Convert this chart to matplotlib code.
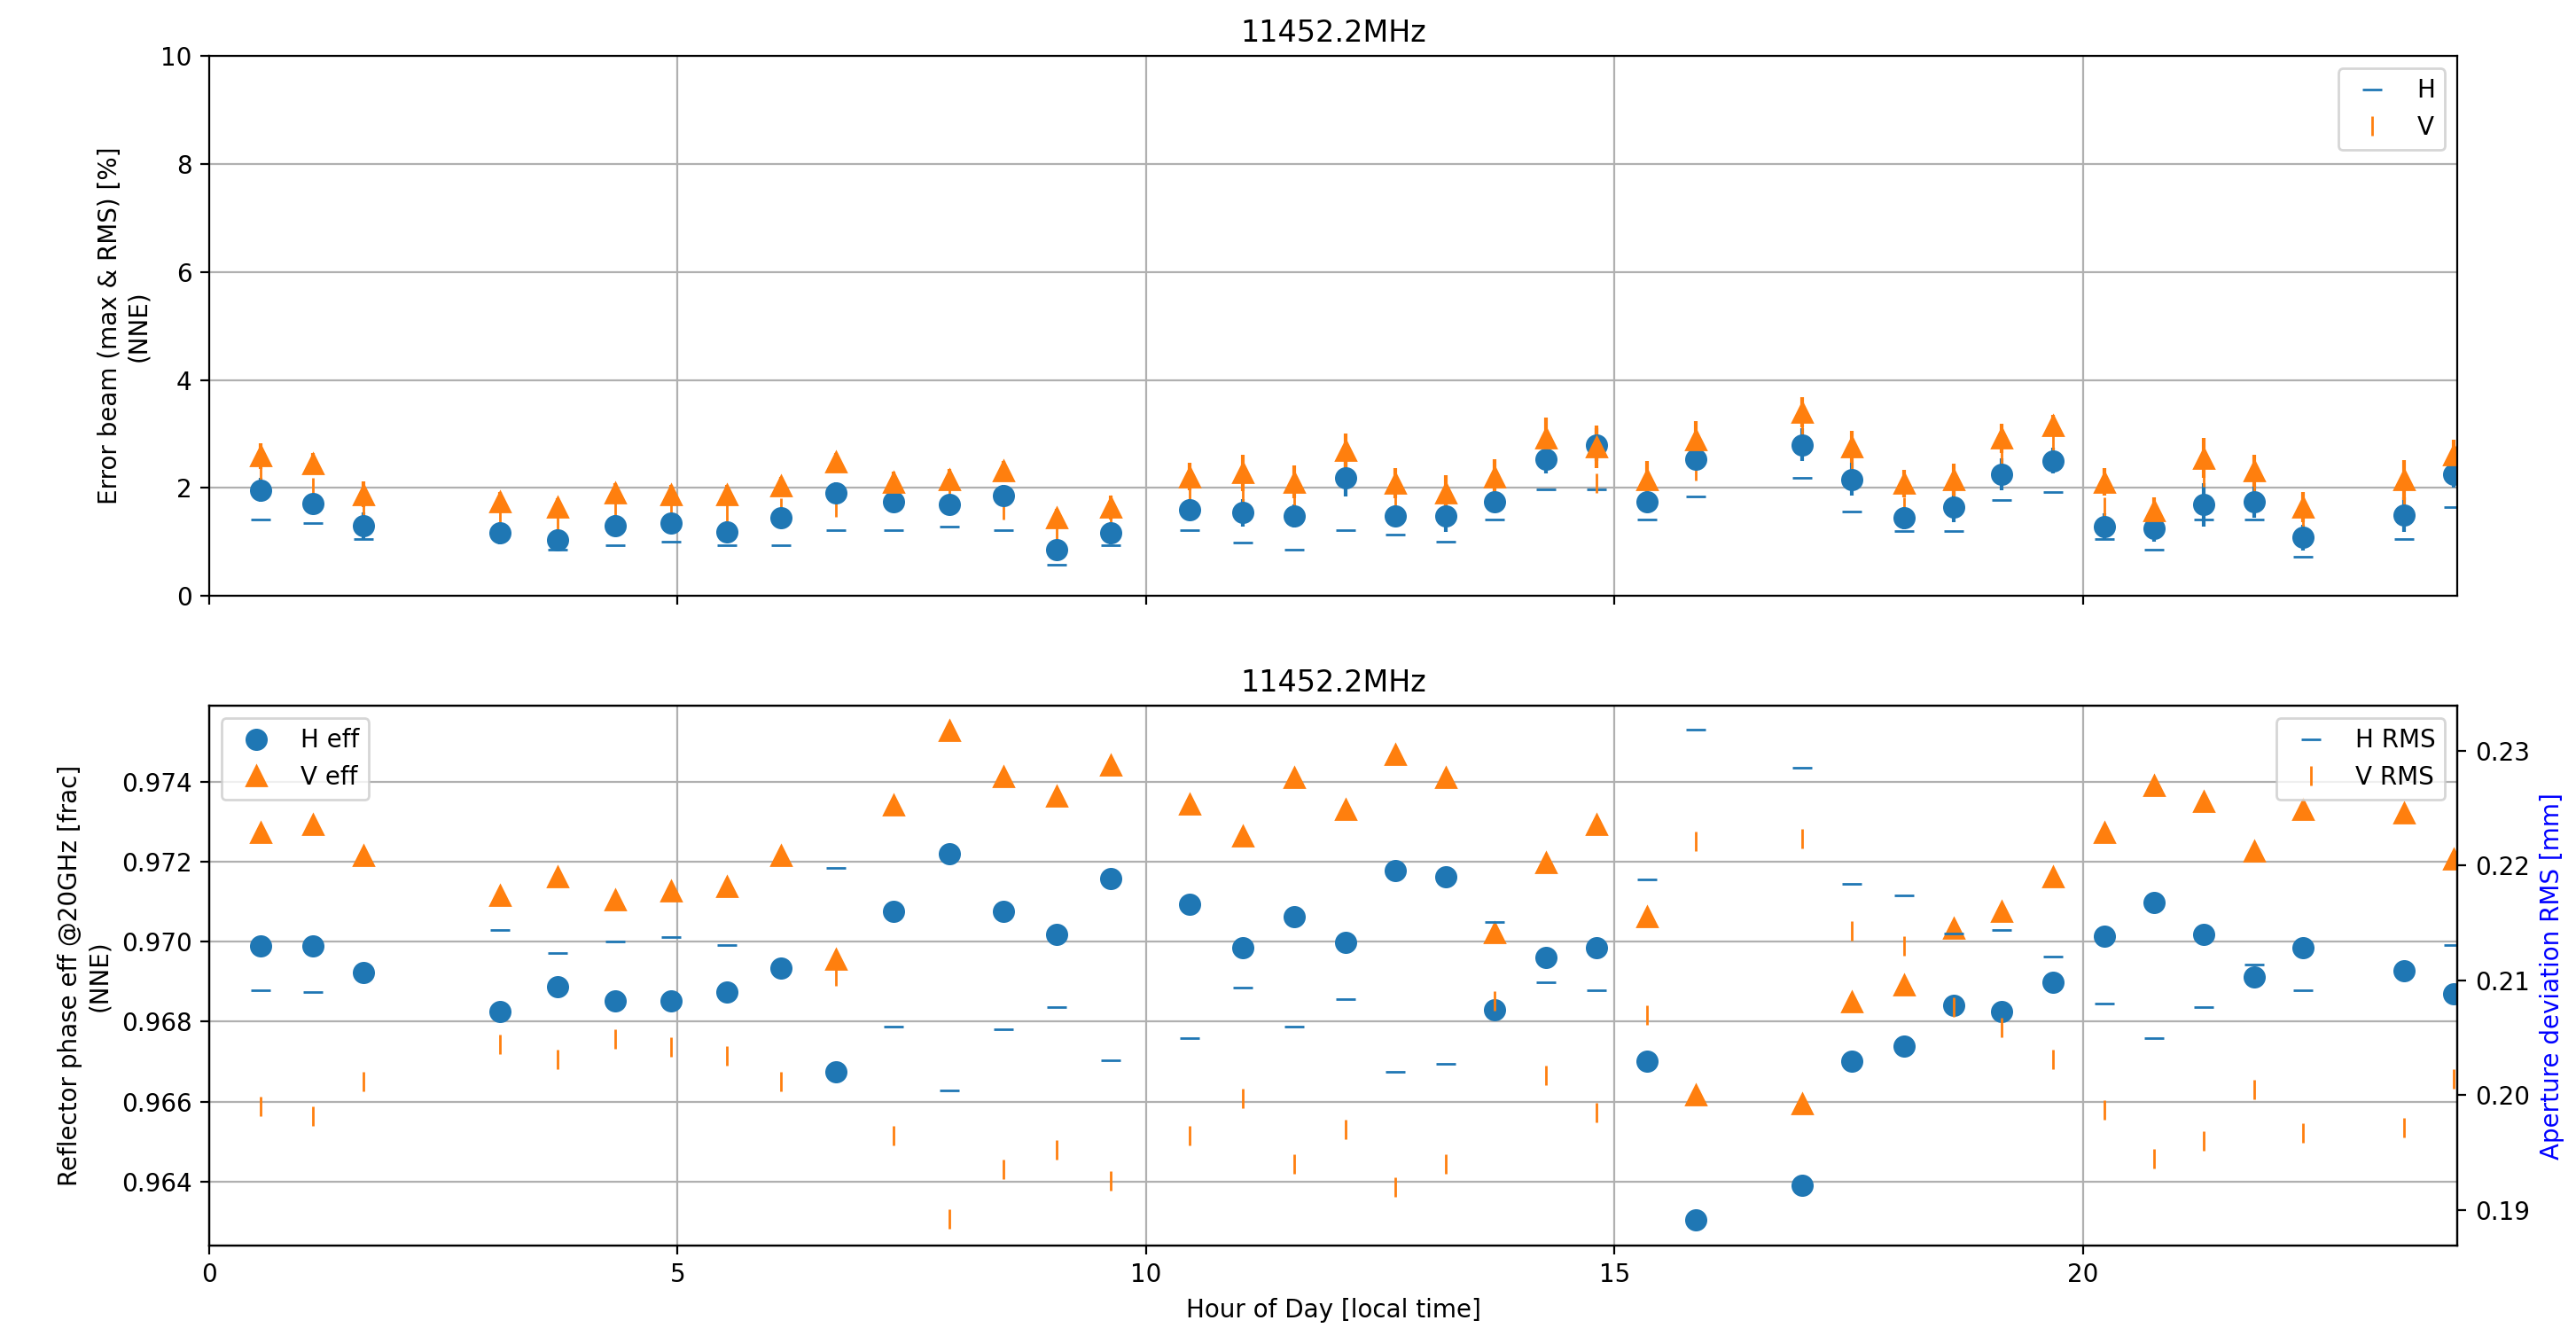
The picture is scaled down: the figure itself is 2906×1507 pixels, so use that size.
import matplotlib
matplotlib.use("Agg")
import matplotlib.pyplot as plt
import numpy as np

# hour of day for each scan
hours = [0.55, 1.11, 1.65, 3.10, 3.72, 4.33, 4.93, 5.53, 6.10, 6.69,
         7.31, 7.90, 8.48, 9.05, 9.62, 10.47, 11.03, 11.58, 12.13, 12.66,
         13.20, 13.72, 14.27, 14.81, 15.35, 15.87, 17.00, 17.53, 18.09, 18.62,
         19.13, 19.68, 20.23, 20.76, 21.29, 21.83, 22.35, 23.43, 23.96]

# top panel: error beam max (with spread) and RMS [%]
h_max = [1.96, 1.71, 1.30, 1.16, 1.04, 1.30, 1.35, 1.18, 1.44, 1.91,
         1.74, 1.69, 1.86, 0.86, 1.16, 1.59, 1.54, 1.48, 2.18, 1.48,
         1.48, 1.74, 2.53, 2.80, 1.74, 2.53, 2.80, 2.16, 1.44, 1.65,
         2.25, 2.50, 1.28, 1.25, 1.69, 1.74, 1.08, 1.50, 2.25]
h_err = [0.22, 0.17, 0.25, 0.20, 0.20, 0.20, 0.18, 0.20, 0.17, 0.20,
         0.17, 0.17, 0.20, 0.17, 0.20, 0.20, 0.25, 0.22, 0.34, 0.20,
         0.29, 0.20, 0.27, 0.30, 0.20, 0.20, 0.30, 0.30, 0.20, 0.29,
         0.30, 0.24, 0.25, 0.24, 0.40, 0.29, 0.24, 0.32, 0.25]
h_rms = [1.42, 1.35, 1.06, np.nan, 0.86, 0.93, 1.00, 0.93, 0.93, 1.21,
         1.21, 1.28, 1.21, 0.57, 0.93, 1.21, 0.99, 0.86, 1.21, 1.14,
         1.00, 1.42, 1.98, 1.98, 1.42, 1.84, 2.19, 1.56, 1.20, 1.20,
         1.77, 1.92, 1.06, 0.86, 1.42, 1.42, 0.72, 1.06, 1.64]
v_max = [2.59, 2.45, 1.88, 1.74, 1.64, 1.91, 1.88, 1.88, 2.04, 2.48,
         2.11, 2.15, 2.32, 1.44, 1.64, 2.21, 2.28, 2.11, 2.69, 2.08,
         1.91, 2.21, 2.92, 2.76, 2.15, 2.89, 3.40, 2.76, 2.08, 2.15,
         2.92, 3.15, 2.11, 1.57, 2.55, 2.32, 1.64, 2.15, 2.62]
v_err = [0.24, 0.20, 0.24, 0.19, 0.17, 0.17, 0.17, 0.17, 0.17, 0.17,
         0.19, 0.20, 0.17, 0.17, 0.22, 0.26, 0.34, 0.30, 0.32, 0.28,
         0.32, 0.32, 0.39, 0.39, 0.34, 0.35, 0.28, 0.30, 0.26, 0.30,
         0.27, 0.20, 0.26, 0.26, 0.37, 0.30, 0.28, 0.37, 0.28]
v_rms = [2.28, 2.01, 1.64, 1.50, 1.37, 1.57, 1.67, 1.54, 1.62, 1.64,
         1.90, 1.90, 1.60, 1.16, 1.40, 1.90, 1.85, 1.80, 2.30, 1.75,
         1.60, 1.95, 2.55, 2.08, 1.85, 2.32, 3.00, 2.45, 1.64, 1.85,
         2.60, 2.80, 1.64, 1.40, 2.20, 2.05, 1.40, 1.85, 2.30]

# bottom panel: phase efficiency and aperture deviation RMS [mm]
h_eff = [0.96989, 0.96989, 0.96922, 0.96825, 0.96888, 0.96852, 0.96852, 0.96874, 0.96933, 0.96674,
         0.97076, 0.97221, 0.97076, 0.97018, 0.97157, 0.97094, 0.96985, 0.97062, 0.96999, 0.97178,
         0.97163, 0.96830, 0.96960, 0.96985, 0.96702, 0.96304, 0.96391, 0.96702, 0.96738, 0.96840,
         0.96825, 0.96898, 0.97014, 0.97099, 0.97018, 0.96912, 0.96985, 0.96927, 0.96869]
v_eff = [0.97274, 0.97294, 0.97216, 0.97115, 0.97163, 0.97105, 0.97127, 0.97139, 0.97216, 0.96956,
         0.97342, 0.97528, 0.97414, 0.97364, 0.97443, 0.97345, 0.97265, 0.97410, 0.97332, 0.97468,
         0.97410, 0.97023, 0.97197, 0.97294, 0.97062, 0.96618, 0.96594, 0.96850, 0.96893, 0.97033,
         0.97076, 0.97163, 0.97274, 0.97390, 0.97352, 0.97226, 0.97332, 0.97323, 0.97207]
h_dev = [0.2091, 0.2090, np.nan, 0.2144, 0.2124, 0.2134, 0.2138, 0.2131, np.nan, 0.2198,
         0.2060, 0.2004, 0.2057, 0.2077, 0.2030, 0.2050, 0.2094, 0.2060, 0.2084, 0.2020,
         0.2027, 0.2151, 0.2098, 0.2091, 0.2188, 0.2318, 0.2285, 0.2184, 0.2174, 0.2141,
         0.2144, 0.2121, 0.2080, 0.2050, 0.2077, 0.2114, 0.2091, np.nan, 0.2131]
v_dev = [0.1990, 0.1982, 0.2012, 0.2044, 0.2031, 0.2049, 0.2042, 0.2034, 0.2012, 0.2104,
         0.1965, 0.1892, 0.1935, 0.1952, 0.1925, 0.1965, 0.1997, 0.1940, 0.1970, 0.1920,
         0.1940, 0.2082, 0.2017, 0.1985, 0.2070, 0.2221, 0.2223, 0.2143, 0.2130, 0.2077,
         0.2059, 0.2031, 0.1987, 0.1945, 0.1960, 0.2005, 0.1967, 0.1972, 0.2014]

title = "11452.2MHz"

fig, (ax1, ax2) = plt.subplots(2, 1, sharex=True, figsize=(14.53, 7.535), dpi=200)
fig.subplots_adjust(left=0.0812, right=0.954, top=0.958, bottom=0.0677, hspace=0.204)

ms = 8

# top panel
ax1.errorbar(hours, h_max, yerr=h_err, fmt='o', color='C0', ms=ms)
ax1.errorbar(hours, v_max, yerr=v_err, fmt='^', color='C1', ms=ms)
ax1.plot(hours, h_rms, '_', color='C0', ms=ms, label='H')
ax1.plot(hours, v_rms, '|', color='C1', ms=ms, label='V')
ax1.set_ylim(0, 10)
ax1.set_xlim(0, 24)
ax1.set_title(title)
ax1.set_ylabel("Error beam (max & RMS) [%]\n(NNE)")
ax1.grid(True)
ax1.legend(loc='upper right')
ax1.tick_params(labelbottom=False)

# bottom panel
ax2.plot(hours, h_eff, 'o', color='C0', ms=ms, label='H eff')
ax2.plot(hours, v_eff, '^', color='C1', ms=ms, label='V eff')
ax2.set_ylim(0.9624, 0.9759)
ax2.set_yticks([0.964, 0.966, 0.968, 0.970, 0.972, 0.974])
ax2.ticklabel_format(axis='y', useOffset=False)
ax2.set_title(title)
ax2.set_xlabel("Hour of Day [local time]")
ax2.set_ylabel("Reflector phase eff @20GHz [frac]\n(NNE)")
ax2.grid(True)
ax2.legend(loc='upper left')

ax3 = ax2.twinx()
ax3.plot(hours, h_dev, '_', color='C0', ms=ms, label='H RMS')
ax3.plot(hours, v_dev, '|', color='C1', ms=ms, label='V RMS')
ax3.set_ylim(0.1869, 0.2339)
ax3.set_yticks([0.19, 0.20, 0.21, 0.22, 0.23])
ax3.set_ylabel("Aperture deviation RMS [mm]", color='b')
ax3.legend(loc='upper right')

ax2.set_xlim(0, 24)

fig.savefig("out.png", dpi=200)
